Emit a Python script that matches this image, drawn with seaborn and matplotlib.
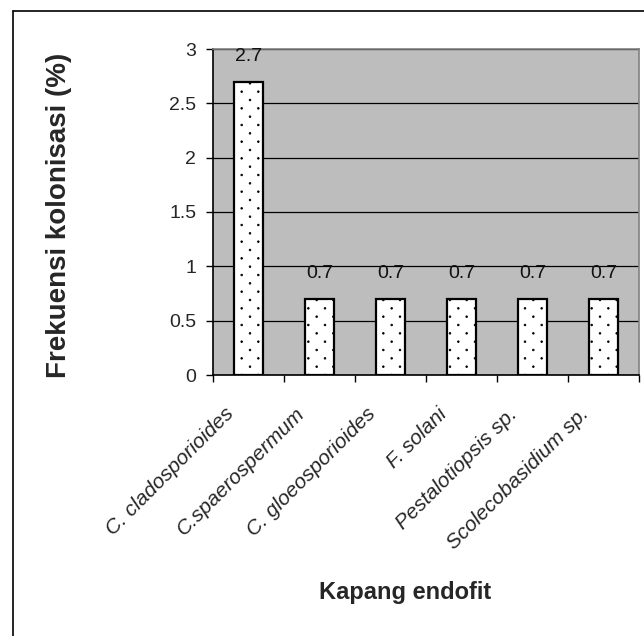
import matplotlib
matplotlib.use("Agg")
import numpy as np
import matplotlib.pyplot as plt
import matplotlib.hatch as mhatch
from matplotlib.path import Path
import seaborn as sns
import pandas as pd
from matplotlib.lines import Line2D

categories = ["C. cladosporioides", "C.spaerospermum", "C. gloeosporioides",
              "F. solani", "Pestalotiopsis sp.", "Scolecobasidium sp."]
values = [2.7, 0.7, 0.7, 0.7, 0.7, 0.7]
yticks = [0, 0.5, 1, 1.5, 2, 2.5, 3]
ytick_labels = ["0", "0.5", "1", "1.5", "2", "2.5", "3"]
ylabel = "Frekuensi kolonisasi (%)"
xlabel = "Kapang endofit"


# fine staggered dot hatch (Excel "small dots" pattern)
class FineDots(mhatch.HatchPatternBase):
    def __init__(self, hatch, density):
        self.n = hatch.count('.') * int(density)
        circ = Path.unit_circle()
        self.sv = circ.vertices
        self.sc = circ.codes
        self.pts = []
        if self.n:
            for r in range(2 * self.n + 1):
                y = r / (2 * self.n)
                if r % 2 == 0:
                    xs = np.linspace(0, 1, self.n + 1)
                else:
                    xs = np.linspace(0.5 / self.n, 1 - 0.5 / self.n, self.n)
                self.pts += [(x, y) for x in xs]
        self.num_vertices = len(self.pts) * len(self.sv)

    def set_vertices_and_codes(self, vertices, codes):
        rad = 0.008
        vertices[:] = np.concatenate([self.sv * rad + np.array(p) for p in self.pts])
        codes[:] = np.tile(self.sc, len(self.pts))

    get_vertices_and_codes = set_vertices_and_codes


mhatch._hatch_types = [h for h in mhatch._hatch_types
                       if h is not mhatch.SmallFilledCircles] + [FineDots]

sns.set_theme(style="white")
plt.rcParams["font.family"] = ["Liberation Sans", "DejaVu Sans"]
plt.rcParams["hatch.linewidth"] = 0.6
plt.rcParams["hatch.color"] = "black"

df = pd.DataFrame({"cat": categories, "val": values})

fig = plt.figure(figsize=(6.44, 6.36), dpi=100)
ax = fig.add_axes([213/644, 1 - 375/636, (639 - 213)/644, (375 - 49)/636])
ax.set_facecolor("#bdbdbd")

sns.barplot(data=df, x="cat", y="val", color="white", edgecolor="black",
            linewidth=1.6, width=0.42, ax=ax, saturation=1, zorder=3)
for p in ax.patches:
    p.set_hatch(".")
    p.set_zorder(3)

ax.set_ylim(0, 3)
ax.set_xlim(-0.5, len(categories) - 0.5)
ax.set_yticks(yticks)
ax.set_yticklabels(ytick_labels, fontsize=14)
ax.yaxis.grid(True, color="black", linewidth=0.9, zorder=1)
ax.set_axisbelow(True)

for c in ax.containers:
    ax.bar_label(c, labels=[f"{v:g}" for v in values], padding=12, fontsize=14, color="#111111")

# x ticks at category boundaries
ax.set_xticks([i - 0.5 for i in range(len(categories) + 1)])
ax.set_xticklabels([])
ax.tick_params(axis="x", which="major", direction="out", length=5, width=1, color="black", bottom=True)
ax.tick_params(axis="y", which="major", direction="out", length=5, width=1, color="black", left=True, pad=7)

for i, lab in enumerate(categories):
    ax.annotate(lab, xy=(i, 0), xycoords=("data", "axes fraction"),
                xytext=(-13, -26), textcoords="offset points",
                rotation=45, rotation_mode="anchor", ha="right", va="center",
                fontsize=15, fontstyle="italic")

ax.set_xlabel("")
ax.set_ylabel("")
for s in ["left", "bottom"]:
    ax.spines[s].set_color("black")
    ax.spines[s].set_linewidth(1.2)
for s in ["top", "right"]:
    ax.spines[s].set_color("#808080")
    ax.spines[s].set_linewidth(1.2)

fig.text(59/644, 1 - 215/636, ylabel, rotation=90, ha="center", va="center",
         fontsize=20, fontweight="bold")
fig.text(405/644, 1 - 592/636, xlabel, ha="center", va="center",
         fontsize=17, fontweight="bold")

# outer frame (top and left edges)
fig.add_artist(Line2D([13/644, 1.0], [1 - 11/636, 1 - 11/636], color="black", linewidth=1.2, transform=fig.transFigure))
fig.add_artist(Line2D([13/644, 13/644], [0.0, 1 - 11/636], color="black", linewidth=1.2, transform=fig.transFigure))

fig.savefig("out.png", dpi=100)
